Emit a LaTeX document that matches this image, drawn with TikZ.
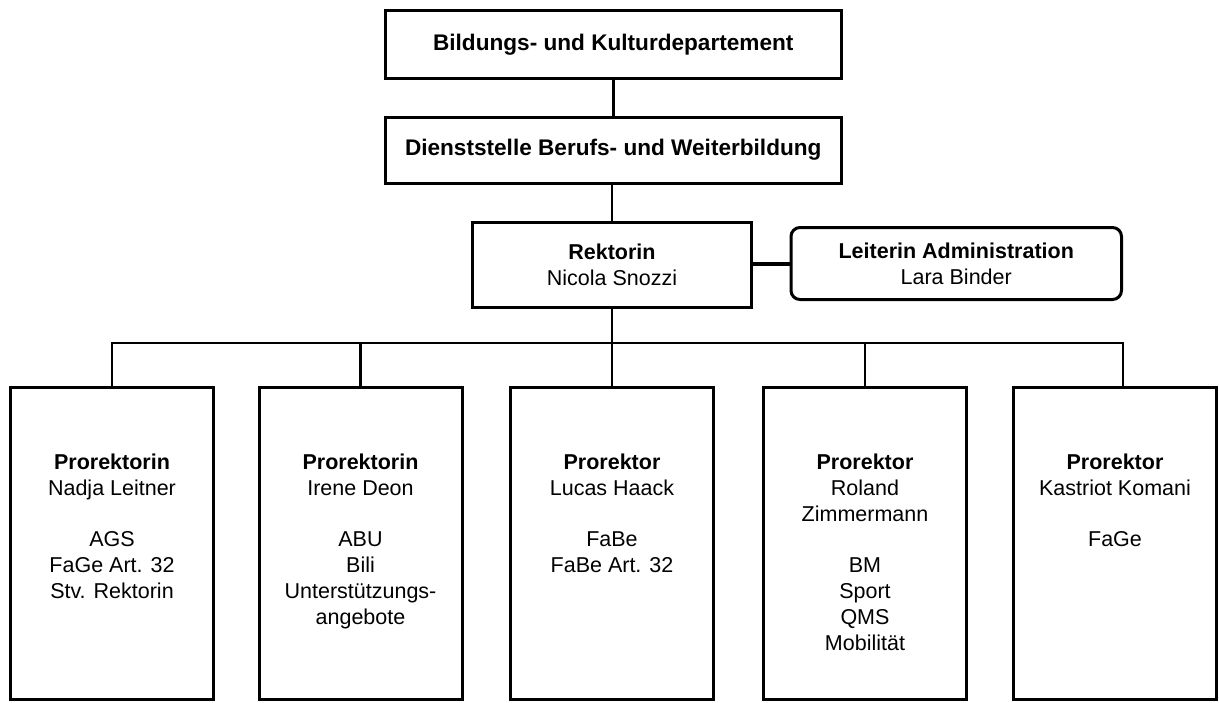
\documentclass[tikz,border=0pt]{standalone}
\usepackage{fontspec}
\setmainfont{Liberation Sans}
\begin{document}
\begin{tikzpicture}[x=1pt,y=-1pt,
  box/.style={draw, line width=3pt, rectangle, inner sep=0pt, align=center,
    font=\fontsize{21.5}{25.8}\selectfont},
  topbox/.style={box, font=\fontsize{22.6}{27}\selectfont},
  rbox/.style={box, rounded corners=9pt},
  pbox/.style={draw, line width=3pt, rectangle, inner sep=0pt, minimum width=203pt, minimum height=312pt},
  ptext/.style={anchor=north, inner sep=0pt, align=center, font=\fontsize{21.5}{25.8}\selectfont},
  conn/.style={line width=2.7pt, line join=miter},
  thick conn/.style={line width=4.5pt}]
\useasboundingbox (0,0) rectangle (1219,702);
\fill[white] (0,0) rectangle (1219,702);

\node[topbox, minimum width=456pt, minimum height=67.5pt] (b1) at (613.25,44.25) {\textbf{Bildungs- und Kulturdepartement}};
\node[topbox, minimum width=456pt, minimum height=66pt] (b2) at (613.25,150) {\textbf{Dienststelle Berufs- und Weiterbildung}};
\node[box, minimum width=279pt, minimum height=85pt] (rek) at (612,265) {\textbf{Rektorin}\\Nicola Snozzi};
\node[rbox, minimum width=330.5pt, minimum height=72pt] (adm) at (956.25,263.5) {\textbf{Leiterin Administration}\\Lara Binder};

\node[pbox] (p1) at (112,543.5) {};
\node[pbox] (p2) at (360.5,543.5) {};
\node[pbox] (p3) at (612,543.5) {};
\node[pbox] (p4) at (865,543.5) {};
\node[pbox] (p5) at (1115,543.5) {};

\node[ptext] (t1) at (112,453.8) {\textbf{Prorektorin}\\Nadja Leitner\\[25.8pt]AGS\\FaGe Art. 32\\Stv. Rektorin};
\node[ptext] (t2) at (360.5,453.8) {\textbf{Prorektorin}\\Irene Deon\\[25.8pt]ABU\\Bili\\Unterstützungs-\\angebote};
\node[ptext] (t3) at (612,453.8) {\textbf{Prorektor}\\Lucas Haack\\[25.8pt]FaBe\\FaBe Art. 32};
\node[ptext] (t4) at (865,453.8) {\textbf{Prorektor}\\Roland\\Zimmermann\\[25.8pt]BM\\Sport\\QMS\\Mobilität};
\node[ptext] (t5) at (1115,453.8) {\textbf{Prorektor}\\Kastriot Komani\\[25.8pt]FaGe};

\coordinate (busR) at (1123,343);
\coordinate (bus) at (612,343);

\draw[conn] (b1.south) -- (b1.south |- b2.north);
\draw[conn] (b2.south -| rek.north) -- (rek.north);
\draw[thick conn] (rek.east |- 0,264) -- (adm.west |- 0,264);
\draw[conn] (rek.south) -- (bus);
\draw[conn] (p1.north) |- (busR) -- (busR |- p5.north);
\draw[conn] (p2.north) -- (p2.north |- bus);
\draw[conn] (p3.north) -- (p3.north |- bus);
\draw[conn] (p4.north) -- (p4.north |- bus);
\end{tikzpicture}
\end{document}
